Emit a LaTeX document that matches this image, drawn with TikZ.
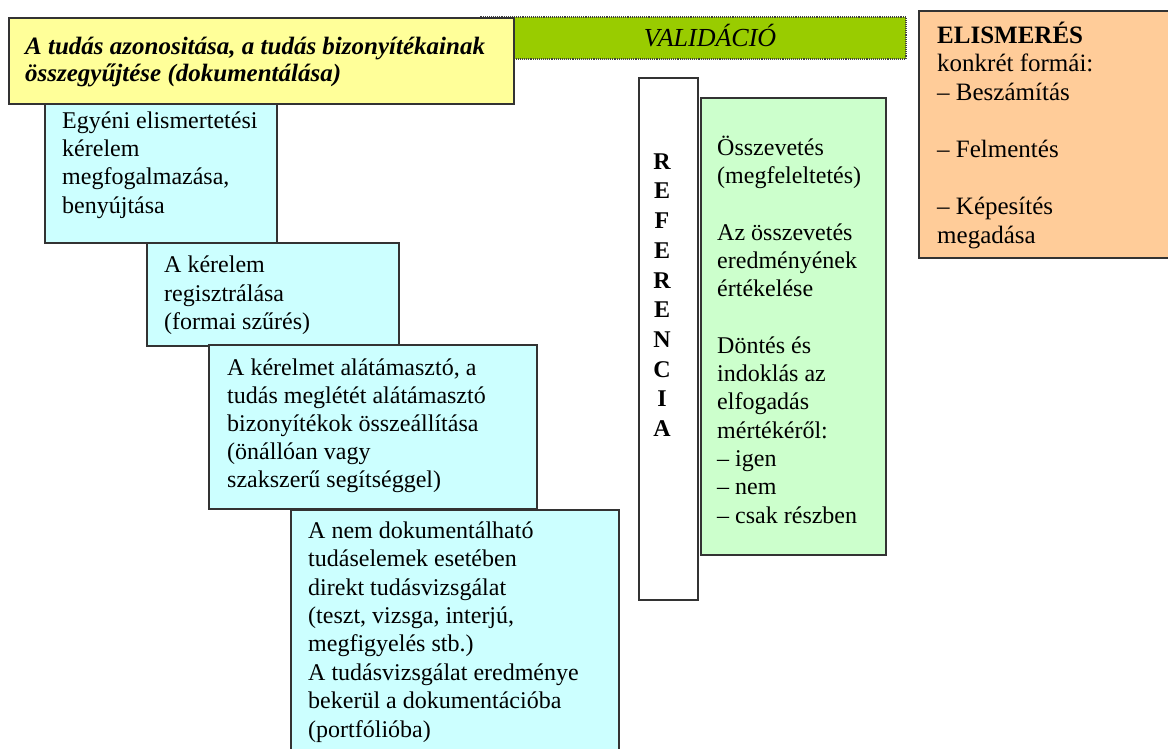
\documentclass[tikz,border=0pt]{standalone}
\usepackage{fontspec}
\setmainfont{Liberation Serif}[UprightFont=* , BoldFont=* Bold, ItalicFont=* Italic, BoldItalicFont=* Bold Italic]
\definecolor{yel}{HTML}{FFFF99}
\definecolor{cyanbox}{HTML}{CCFFFF}
\definecolor{grn}{HTML}{CCFFCC}
\definecolor{org}{HTML}{FFCC99}
\definecolor{valgreen}{HTML}{99CC00}
\newcommand\topstrut{\rule{0pt}{22pt}}
\begin{document}
\begin{tikzpicture}[x=1pt,y=-1pt,
  box/.style={draw=black!80, line width=1.5pt},
  txt/.style={font=\fontsize{24}{28.3}\selectfont, align=left, inner sep=0pt, anchor=north west},
]
\useasboundingbox (0,0) rectangle (1168,749);
\clip (0,0) rectangle (1168,749);
% validation bar
\draw[fill=valgreen, draw=black!75, densely dotted, line width=1.1pt] (480,17) rectangle (906,59);
\node[font=\itshape\fontsize{26}{28}\selectfont, anchor=base, inner sep=0pt] (val) at (710,47) {VALIDÁCIÓ};
% step boxes
\draw[box, fill=cyanbox] (45,90) rectangle (277,243);
\node[txt] (b1) at (62,106) {\topstrut Egyéni elismertetési\\kérelem\\megfogalmazása,\\benyújtása};
% yellow header
\draw[box, fill=yel] (9,18) rectangle (514,104);
\node[txt, font=\bfseries\itshape\fontsize{25}{27.7}\selectfont] (head) at (25,32) {\topstrut A tudás azonositása, a tudás bizonyítékainak\\összegyűjtése (dokumentálása)};
\draw[box, fill=cyanbox] (147,243) rectangle (399,346);
\node[txt] (b2) at (164,250.7) {\topstrut A kérelem\\regisztrálása\\(formai szűrés)};
\draw[box, fill=cyanbox] (209,345) rectangle (537,509);
\node[txt, font=\fontsize{24}{27.8}\selectfont] (b3) at (227,353.7) {\topstrut A kérelmet alátámasztó, a\\tudás meglétét alátámasztó\\bizonyítékok összeállítása\\(önállóan vagy\\szakszerű segítséggel)};
\draw[box, fill=cyanbox] (291,510) rectangle (619,770);
\node[txt, font=\fontsize{24}{28.4}\selectfont] (b4) at (308,516) {\topstrut A nem dokumentálható\\tudáselemek esetében\\direkt tudásvizsgálat\\(teszt, vizsga, interjú,\\megfigyelés stb.)\\A tudásvizsgálat eredménye\\bekerül a dokumentációba\\(portfólióba)};
% referencia
\draw[box, fill=white] (639,78) rectangle (698,600);
\node[font=\bfseries\fontsize{24}{29.7}\selectfont, align=center, inner sep=0pt, anchor=north] (ref) at (662,147) {\topstrut R\\E\\F\\E\\R\\E\\N\\C\\I\\A};
% green
\draw[box, fill=grn] (701,98) rectangle (886,555);
\node[txt] (g) at (717,133) {\topstrut Összevetés\\(megfeleltetés)\\[28.3pt]Az összevetés\\eredményének\\értékelése\\[28.3pt]Döntés és\\indoklás az\\elfogadás\\mértékéről:\\– igen\\– nem\\– csak részben};
% orange
\draw[box, fill=org] (919,11) rectangle (1190,258);
\node[txt, font=\fontsize{25}{28.6}\selectfont] (o) at (937,21) {\topstrut\textbf{ELISMERÉS}\\konkrét formái:\\– Beszámítás\\[28.6pt]– Felmentés\\[28.6pt]– Képesítés\\megadása};
\end{tikzpicture}
\end{document}
